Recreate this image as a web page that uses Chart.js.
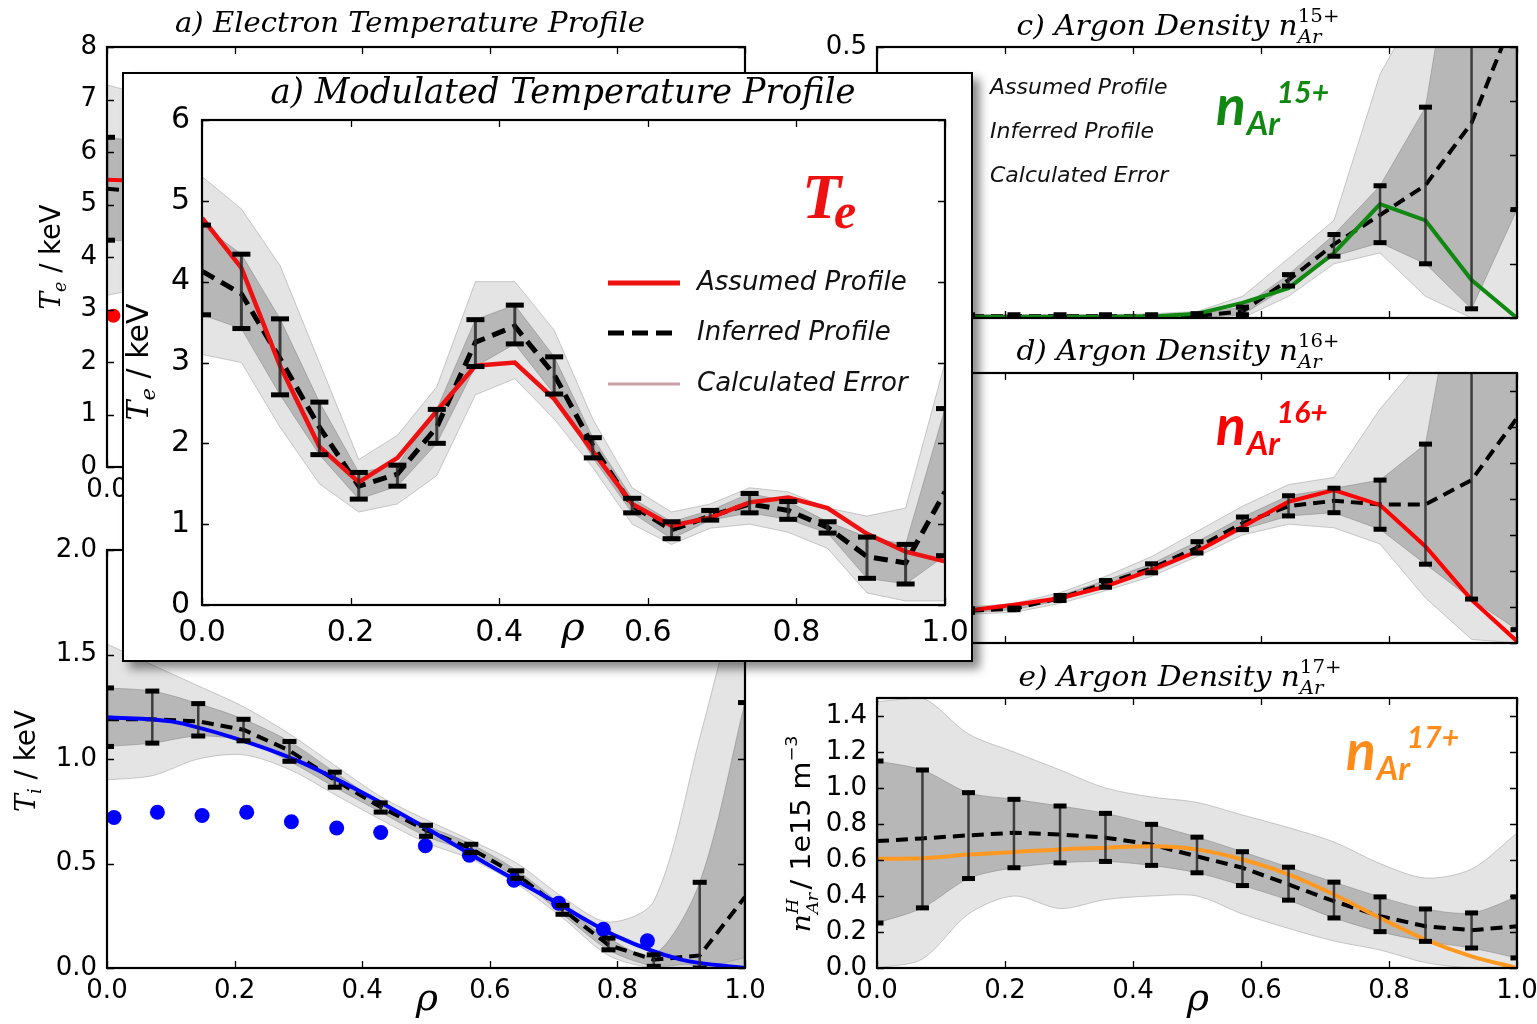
<!DOCTYPE html>
<html>
<head>
<meta charset="utf-8">
<script src="https://cdn.jsdelivr.net/npm/chart.js@4.4.1/dist/chart.umd.min.js"></script>
<style>
body { margin: 0; background: #fff; width: 1537px; height: 1024px; overflow: hidden; position: relative; }
canvas { position: absolute; }
#insetBox { position: absolute; left: 122px; top: 72px; width: 847px; height: 586px; border: 2px solid #000; background: #fff; box-shadow: 7px 7px 9px rgba(0,0,0,0.45); z-index: 5; }
</style>
</head>
<body>
<canvas id="cA"></canvas>
<canvas id="cB"></canvas>
<canvas id="cC"></canvas>
<canvas id="cD"></canvas>
<canvas id="cE"></canvas>
<div id="insetBox"></div>
<canvas id="cInset"></canvas>
<script>
// ---- data ----
// inset: modulated Te profile
const rhoTe = [0.0, 0.053, 0.105, 0.158, 0.211, 0.263, 0.316, 0.368, 0.421, 0.474, 0.526, 0.579, 0.632, 0.684, 0.737, 0.789, 0.842, 0.895, 0.947, 1.0];
const teAssumed  = [4.79, 4.17, 2.96, 1.96, 1.52, 1.82, 2.40, 2.96, 3.00, 2.55, 1.90, 1.25, 0.98, 1.08, 1.27, 1.33, 1.20, 0.88, 0.66, 0.54];
const teInferred = [4.13, 3.85, 3.05, 2.20, 1.47, 1.62, 2.20, 3.25, 3.45, 2.85, 1.97, 1.23, 0.93, 1.10, 1.25, 1.17, 0.96, 0.60, 0.52, 1.40];
const teErrLo    = [3.59, 3.42, 2.60, 1.86, 1.31, 1.47, 2.00, 2.95, 3.23, 2.61, 1.82, 1.14, 0.82, 1.05, 1.14, 1.06, 0.89, 0.33, 0.26, 0.61];
const teErrHi    = [4.70, 4.34, 3.54, 2.51, 1.64, 1.73, 2.42, 3.53, 3.71, 3.07, 2.07, 1.32, 1.03, 1.17, 1.38, 1.28, 1.03, 0.84, 0.75, 2.43];
const teSpreadHi = [5.30, 4.90, 4.20, 3.00, 1.80, 2.10, 2.70, 4.00, 4.00, 3.40, 2.30, 1.45, 1.15, 1.25, 1.45, 1.40, 1.20, 1.10, 1.20, 3.00];
const teSpreadLo = [3.10, 3.00, 2.20, 1.50, 1.15, 1.25, 1.60, 2.60, 2.80, 2.30, 1.70, 1.00, 0.75, 0.95, 1.00, 0.90, 0.70, 0.15, 0.05, 0.05];

// panel a (mostly hidden behind the inset)
const rhoTeA = [0.0, 0.053, 0.105];
const teAAssumed  = [5.47, 5.45, 5.30];
const teAInferred = [5.30, 5.25, 5.10];
const teAErrLo    = [4.32, 4.30, 4.20];
const teAErrHi    = [6.28, 6.20, 6.00];
const teASpreadHi = [7.28, 7.10, 6.80];
const teASpreadLo = [3.27, 3.40, 3.50];
const rhoTeAMeas = [0.01];
const teAMeas = [2.88];

// panel b: Ti
const rhoGrid = [0.0, 0.071, 0.143, 0.214, 0.286, 0.357, 0.429, 0.5, 0.571, 0.643, 0.714, 0.786, 0.857, 0.929, 1.0];
const tiInferred = [1.19, 1.19, 1.18, 1.14, 1.04, 0.90, 0.77, 0.66, 0.57, 0.445, 0.28, 0.11, 0.04, 0.06, 0.34];
const tiErrLo    = [1.06, 1.076, 1.11, 1.087, 0.989, 0.865, 0.746, 0.63, 0.552, 0.429, 0.257, 0.087, 0.008, 0.0, -0.3];
const tiErrHi    = [1.34, 1.325, 1.265, 1.19, 1.084, 0.937, 0.79, 0.683, 0.592, 0.465, 0.30, 0.143, 0.063, 0.41, 1.27];
const tiSpreadHi = [1.55, 1.45, 1.35, 1.25, 1.12, 0.97, 0.82, 0.71, 0.61, 0.50, 0.34, 0.22, 0.32, 1.10, 1.95];
const tiSpreadLo = [0.90, 0.92, 1.00, 1.02, 0.95, 0.83, 0.71, 0.60, 0.52, 0.40, 0.24, 0.06, 0.00, 0.00, 0.05];
const rhoTiAssumed = [0.0, 0.1, 0.2, 0.3, 0.4, 0.5, 0.6, 0.7, 0.8, 0.9, 1.0];
const tiAssumed = [1.20, 1.18, 1.10, 0.99, 0.84, 0.67, 0.49, 0.32, 0.15, 0.04, 0.0];
const rhoTiMeas = [0.011, 0.079, 0.149, 0.219, 0.289, 0.36, 0.429, 0.499, 0.568, 0.638, 0.708, 0.778, 0.847];
const tiMeas = [0.72, 0.745, 0.73, 0.745, 0.70, 0.67, 0.648, 0.585, 0.54, 0.42, 0.31, 0.185, 0.13];

// panel c: Ar 15+
const ar15Assumed  = [0.002, 0.002, 0.002, 0.002, 0.002, 0.002, 0.003, 0.008, 0.028, 0.055, 0.12, 0.21, 0.18, 0.07, 0.0];
const ar15Inferred = [0.003, 0.003, 0.003, 0.003, 0.003, 0.003, 0.003, 0.004, 0.012, 0.07, 0.136, 0.19, 0.245, 0.36, 0.57];
const ar15ErrLo    = [0.0, 0.0, 0.0, 0.0, 0.0, 0.0, 0.0, 0.0, 0.006, 0.059, 0.114, 0.139, 0.10, 0.017, 0.2];
const ar15ErrHi    = [0.006, 0.006, 0.006, 0.006, 0.006, 0.006, 0.006, 0.008, 0.02, 0.08, 0.154, 0.244, 0.389, 0.9, 1.0];
const ar15SpreadHi = [0.006, 0.006, 0.006, 0.006, 0.006, 0.006, 0.008, 0.012, 0.04, 0.11, 0.18, 0.45, 0.60, 0.70, 0.70];
const ar15SpreadLo = [0.0, 0.0, 0.0, 0.0, 0.0, 0.0, 0.0, 0.0, 0.0, 0.04, 0.10, 0.12, 0.04, 0.0, 0.0];

// panel d: Ar 16+
const ar16Assumed  = [0.16, 0.165, 0.18, 0.212, 0.249, 0.314, 0.406, 0.508, 0.646, 0.785, 0.85, 0.767, 0.536, 0.24, 0.01];
const ar16Inferred = [0.16, 0.165, 0.18, 0.19, 0.25, 0.33, 0.415, 0.53, 0.665, 0.76, 0.79, 0.77, 0.77, 0.905, 1.25];
const ar16ErrLo    = [0.15, 0.155, 0.17, 0.185, 0.236, 0.31, 0.39, 0.50, 0.63, 0.706, 0.724, 0.632, 0.438, 0.244, 0.074];
const ar16ErrHi    = [0.17, 0.175, 0.19, 0.194, 0.264, 0.347, 0.44, 0.563, 0.70, 0.818, 0.86, 0.905, 1.105, 2.5, 2.5];
const ar16SpreadHi = [0.18, 0.185, 0.20, 0.22, 0.28, 0.37, 0.48, 0.62, 0.76, 0.88, 0.92, 1.30, 1.60, 1.60, 1.60];
const ar16SpreadLo = [0.14, 0.145, 0.16, 0.17, 0.22, 0.29, 0.37, 0.48, 0.60, 0.66, 0.64, 0.55, 0.25, 0.02, 0.0];

// panel e: Ar 17+
const ar17Assumed  = [0.607, 0.61, 0.63, 0.644, 0.659, 0.668, 0.677, 0.659, 0.603, 0.52, 0.408, 0.278, 0.158, 0.065, 0.0];
const ar17Inferred = [0.705, 0.72, 0.737, 0.751, 0.742, 0.724, 0.686, 0.62, 0.557, 0.464, 0.371, 0.288, 0.232, 0.21, 0.232];
const ar17ErrLo    = [0.25, 0.334, 0.497, 0.557, 0.584, 0.592, 0.57, 0.529, 0.458, 0.377, 0.278, 0.202, 0.148, 0.111, 0.056];
const ar17ErrHi    = [1.15, 1.10, 0.974, 0.937, 0.90, 0.859, 0.798, 0.727, 0.646, 0.56, 0.477, 0.395, 0.328, 0.306, 0.395];
const ar17SpreadHi = [1.48, 1.50, 1.30, 1.20, 1.10, 1.00, 0.95, 0.92, 0.85, 0.78, 0.70, 0.58, 0.50, 0.55, 0.75];
const ar17SpreadLo = [0.0, 0.05, 0.30, 0.40, 0.33, 0.38, 0.40, 0.40, 0.30, 0.22, 0.15, 0.10, 0.03, 0.0, 0.0];

// ---- helpers ----
const serifI = s => `italic ${s}px "DejaVu Serif", serif`;
const serif = s => `${s}px "DejaVu Serif", serif`;
const sans = s => `${s}px "DejaVu Sans", sans-serif`;
const sansI = s => `italic ${s}px "DejaVu Sans", sans-serif`;
const bigF = s => `italic bold ${s}px Lato, "Open Sans", sans-serif`;

function xy(xs, ys) { return xs.map((x, i) => ({x: x, y: ys[i]})); }
function line(xs, ys, color, width, extra) {
  return Object.assign({data: xy(xs, ys), borderColor: color, borderWidth: width, pointRadius: 0, fill: false, tension: 0}, extra || {});
}
function band(xs, hi, lo, fillCol, edgeCol, tension) {
  return [
    {data: xy(xs, hi), borderColor: edgeCol, borderWidth: 1, pointRadius: 0, fill: false, tension: tension},
    {data: xy(xs, lo), borderColor: edgeCol, borderWidth: 1, pointRadius: 0, fill: '-1', backgroundColor: fillCol, tension: tension}
  ];
}
const OUTER = 'rgba(165,165,165,0.30)', OUTER_EDGE = 'rgba(160,160,160,0.55)';
const INNER = 'rgba(115,115,115,0.40)', INNER_EDGE = 'rgba(130,130,130,0.5)';

// text with sub/superscripts, centred at (x, y); baseline at y
function rich(ctx, parts, x, y, opt) {
  opt = opt || {};
  ctx.save();
  ctx.translate(x, y);
  if (opt.rot) ctx.rotate(opt.rot);
  let w = 0;
  parts.forEach(p => { ctx.font = p.f; p.w = ctx.measureText(p.t).width; if (p.adv !== false) w += p.w + (p.dx || 0); });
  if (opt.width) ctx.scale(opt.width / w, 1);
  let cx = opt.align === 'left' ? 0 : -w / 2;
  ctx.fillStyle = opt.color || '#000';
  ctx.textBaseline = 'alphabetic';
  ctx.textAlign = 'left';
  parts.forEach(p => {
    ctx.font = p.f;
    cx += p.dx || 0;
    ctx.fillText(p.t, cx, p.dy || 0);
    if (p.adv !== false) cx += p.w;
  });
  ctx.restore();
}
function argonTitle(ctx, letter, charge, cx, y) {
  rich(ctx, [
    {t: letter + ') Argon Density n', f: serifI(27)},
    {t: 'Ar', f: serifI(18), dy: 8, adv: false},
    {t: charge, f: serif(18), dy: -13}
  ], cx, y, {width: 323});
}
function nLabel(ctx, charge, color, x, y) {
  rich(ctx, [
    {t: 'n', f: bigF(55)},
    {t: 'Ar', f: bigF(33), dy: 10, dx: 1},
    {t: charge, f: bigF(30), dy: -22, dx: -3}
  ], x, y, {align: 'left', color: color});
}

const decor = {};
const decoPlugin = {
  id: 'deco',
  afterDatasetsDraw(chart) {
    const d = decor[chart.canvas.id];
    const ctx = chart.ctx, a = chart.chartArea, xs = chart.scales.x, ys = chart.scales.y;
    if (d.err) {
      const e = d.err;
      ctx.save();
      ctx.beginPath(); ctx.rect(a.left, a.top, a.right - a.left, a.bottom - a.top); ctx.clip();
      e.x.forEach((xv, i) => {
        const px = xs.getPixelForValue(xv);
        const p1 = ys.getPixelForValue(e.lo[i]), p2 = ys.getPixelForValue(e.hi[i]);
        ctx.strokeStyle = 'rgba(40,40,40,0.85)';
        ctx.lineWidth = e.lw;
        ctx.beginPath(); ctx.moveTo(px, p1); ctx.lineTo(px, p2); ctx.stroke();
        ctx.fillStyle = '#000';
        [p1, p2].forEach(py => ctx.fillRect(px - e.cap / 2, py - e.th / 2, e.cap, e.th));
      });
      ctx.restore();
    }
    // inward ticks on all sides + frame
    ctx.save();
    ctx.strokeStyle = '#000';
    ctx.lineWidth = 1.3;
    const tk = 7;
    ctx.beginPath();
    xs.ticks.forEach(t => {
      const px = Math.round(xs.getPixelForValue(t.value)) + 0.5;
      ctx.moveTo(px, a.bottom); ctx.lineTo(px, a.bottom - tk);
      ctx.moveTo(px, a.top); ctx.lineTo(px, a.top + tk);
    });
    ys.ticks.forEach(t => {
      const py = Math.round(ys.getPixelForValue(t.value)) + 0.5;
      ctx.moveTo(a.left, py); ctx.lineTo(a.left + tk, py);
      ctx.moveTo(a.right, py); ctx.lineTo(a.right - tk, py);
    });
    ctx.stroke();
    ctx.lineWidth = 2.2;
    ctx.strokeRect(a.left, a.top, a.right - a.left, a.bottom - a.top);
    ctx.restore();
    if (d.draw) {
      ctx.save();
      ctx.translate(-d.ox, -d.oy);
      d.draw(ctx, chart);
      ctx.restore();
    }
  }
};

function panel(id, box, pad, cfg) {
  const cv = document.getElementById(id);
  const ox = box.x - pad.l, oy = box.y - pad.t;
  cv.width = box.w + pad.l + pad.r;
  cv.height = box.h + pad.t + pad.b;
  cv.style.left = ox + 'px';
  cv.style.top = oy + 'px';
  cv.style.zIndex = cfg.z || 1;
  decor[id] = {ox: ox, oy: oy, err: cfg.err, draw: cfg.draw};
  const tickFont = {family: 'DejaVu Sans', size: cfg.fs || 26};
  return new Chart(cv, {
    type: 'line',
    data: {datasets: cfg.datasets},
    options: {
      responsive: false, animation: false, devicePixelRatio: 1,
      layout: {padding: {left: 0, top: pad.t, right: pad.r, bottom: 0}},
      plugins: {legend: {display: false}, tooltip: {enabled: false}},
      scales: {
        x: {
          type: 'linear', min: 0, max: 1,
          grid: {display: false, drawTicks: false}, border: {display: false},
          ticks: {display: cfg.xLabels !== false, stepSize: 0.2, color: '#000', font: tickFont,
                  padding: cfg.xpad || 8, maxRotation: 0, autoSkip: false, includeBounds: false,
                  callback: v => v.toFixed(1)},
          afterFit: s => { s.height = pad.b; s.paddingLeft = 0; s.paddingRight = 0; }
        },
        y: {
          type: 'linear', min: cfg.ymin, max: cfg.ymax,
          grid: {display: false, drawTicks: false}, border: {display: false},
          ticks: {stepSize: cfg.ystep, color: '#000', font: tickFont, padding: cfg.ypad || 10,
                  autoSkip: false, includeBounds: false, callback: v => v.toFixed(cfg.ydec)},
          afterFit: s => { s.width = pad.l; s.paddingTop = 0; s.paddingBottom = 0; }
        }
      }
    },
    plugins: [decoPlugin]
  });
}

// ---- panel a: electron temperature (background) ----
panel('cA', {x: 107, y: 47, w: 638, h: 420}, {l: 107, t: 47, r: 22, b: 45}, {
  ymin: 0, ymax: 8, ystep: 1, ydec: 0,
  datasets: [
    {data: xy(rhoTeAMeas, teAMeas), showLine: false, pointRadius: 7, pointBackgroundColor: '#ff0000', pointBorderWidth: 0},
    line(rhoTeA, teAAssumed, '#ff0000', 4),
    line(rhoTeA, teAInferred, '#000', 4, {borderDash: [12, 7]}),
    ...band(rhoTeA, teAErrHi, teAErrLo, INNER, INNER_EDGE, 0),
    ...band(rhoTeA, teASpreadHi, teASpreadLo, OUTER, OUTER_EDGE, 0)
  ],
  err: {x: rhoTeA, lo: teAErrLo, hi: teAErrHi, lw: 2.5, cap: 16, th: 5},
  draw: ctx => {
    rich(ctx, [{t: 'a) Electron Temperature Profile', f: serifI(28)}], 410, 32, {width: 470});
    rich(ctx, [{t: 'T', f: serifI(27)}, {t: 'e', f: serifI(18), dy: 6}, {t: ' / keV', f: sans(28)}], 60, 257, {rot: -Math.PI / 2, width: 105});
  }
});

// ---- panel b: ion temperature ----
panel('cB', {x: 107, y: 550, w: 638, h: 418}, {l: 107, t: 30, r: 22, b: 56}, {
  ymin: 0, ymax: 2, ystep: 0.5, ydec: 1,
  datasets: [
    {data: xy(rhoTiMeas, tiMeas), showLine: false, pointRadius: 7.5, pointBackgroundColor: '#0000ff', pointBorderWidth: 0},
    line(rhoTiAssumed, tiAssumed, '#0000ff', 4, {cubicInterpolationMode: 'monotone'}),
    line(rhoGrid, tiInferred, '#000', 4, {borderDash: [12, 7]}),
    ...band(rhoGrid, tiErrHi, tiErrLo, INNER, INNER_EDGE, 0.3),
    ...band(rhoGrid, tiSpreadHi, tiSpreadLo, OUTER, OUTER_EDGE, 0.3)
  ],
  err: {x: rhoGrid, lo: tiErrLo, hi: tiErrHi, lw: 2.5, cap: 14, th: 5},
  draw: ctx => {
    rich(ctx, [{t: 'T', f: serifI(27)}, {t: 'i', f: serifI(18), dy: 6}, {t: ' / keV', f: sans(28)}], 35, 761, {rot: -Math.PI / 2, width: 102});
    rich(ctx, [{t: 'ρ', f: serifI(38)}], 427, 1010);
  }
});

// ---- panel c: Ar 15+ ----
panel('cC', {x: 877, y: 47, w: 640, h: 271}, {l: 90, t: 47, r: 20, b: 20}, {
  ymin: 0, ymax: 0.5, ystep: 0.1, ydec: 1, xLabels: false,
  datasets: [
    line(rhoGrid, ar15Assumed, '#118811', 4),
    line(rhoGrid, ar15Inferred, '#000', 4, {borderDash: [12, 7]}),
    ...band(rhoGrid, ar15ErrHi, ar15ErrLo, INNER, INNER_EDGE, 0),
    ...band(rhoGrid, ar15SpreadHi, ar15SpreadLo, OUTER, OUTER_EDGE, 0)
  ],
  err: {x: rhoGrid, lo: ar15ErrLo, hi: ar15ErrHi, lw: 2.5, cap: 13, th: 5},
  draw: ctx => {
    argonTitle(ctx, 'c', '15+', 1178, 35);
    ctx.font = sansI(22);
    ctx.fillStyle = '#111';
    ctx.textBaseline = 'middle';
    ctx.fillText('Assumed Profile', 990, 88);
    ctx.fillText('Inferred Profile', 990, 132);
    ctx.fillText('Calculated Error', 990, 176);
    nLabel(ctx, '15+', '#118811', 1216, 125);
  }
});

// ---- panel d: Ar 16+ ----
panel('cD', {x: 877, y: 373, w: 640, h: 270}, {l: 90, t: 45, r: 20, b: 20}, {
  ymin: 0, ymax: 1.5, ystep: 0.2, ydec: 1, xLabels: false,
  datasets: [
    line(rhoGrid, ar16Assumed, '#ff0000', 4),
    line(rhoGrid, ar16Inferred, '#000', 4, {borderDash: [12, 7]}),
    ...band(rhoGrid, ar16ErrHi, ar16ErrLo, INNER, INNER_EDGE, 0),
    ...band(rhoGrid, ar16SpreadHi, ar16SpreadLo, OUTER, OUTER_EDGE, 0)
  ],
  err: {x: rhoGrid, lo: ar16ErrLo, hi: ar16ErrHi, lw: 2.5, cap: 13, th: 5},
  draw: ctx => {
    argonTitle(ctx, 'd', '16+', 1178, 360);
    nLabel(ctx, '16+', '#ff0000', 1216, 445);
  }
});

// ---- panel e: Ar 17+ ----
panel('cE', {x: 877, y: 698, w: 640, h: 270}, {l: 110, t: 45, r: 20, b: 56}, {
  ymin: 0, ymax: 1.5, ystep: 0.2, ydec: 1,
  datasets: [
    line(rhoGrid, ar17Assumed, '#ff9922', 4, {cubicInterpolationMode: 'monotone'}),
    line(rhoGrid, ar17Inferred, '#000', 4, {borderDash: [12, 7]}),
    ...band(rhoGrid, ar17ErrHi, ar17ErrLo, INNER, INNER_EDGE, 0.3),
    ...band(rhoGrid, ar17SpreadHi, ar17SpreadLo, OUTER, OUTER_EDGE, 0.3)
  ],
  err: {x: rhoGrid, lo: ar17ErrLo, hi: ar17ErrHi, lw: 2.5, cap: 13, th: 5},
  draw: ctx => {
    argonTitle(ctx, 'e', '17+', 1180, 686);
    rich(ctx, [
      {t: 'n', f: serifI(26)}, {t: 'Ar', f: serifI(16), dy: 8, adv: false}, {t: 'H', f: serifI(16), dy: -12},
      {t: ' / 1e15 m', f: sans(26)}, {t: '−3', f: sans(16), dy: -13}
    ], 810, 834, {rot: -Math.PI / 2, width: 197});
    rich(ctx, [{t: 'ρ', f: serifI(38)}], 1198, 1010);
    nLabel(ctx, '17+', '#ff8c1a', 1346, 770);
  }
});

// ---- inset: modulated temperature profile ----
panel('cInset', {x: 202, y: 120, w: 743, h: 485}, {l: 80, t: 48, r: 28, b: 57}, {
  z: 6, fs: 30, ymin: 0, ymax: 6, ystep: 1, ydec: 0, xpad: 10, ypad: 12,
  datasets: [
    line(rhoTe, teAssumed, '#ee1111', 4.5),
    line(rhoTe, teInferred, '#000', 5, {borderDash: [14, 8]}),
    ...band(rhoTe, teErrHi, teErrLo, INNER, INNER_EDGE, 0),
    ...band(rhoTe, teSpreadHi, teSpreadLo, OUTER, OUTER_EDGE, 0)
  ],
  err: {x: rhoTe, lo: teErrLo, hi: teErrHi, lw: 3, cap: 18, th: 5},
  draw: ctx => {
    rich(ctx, [{t: 'a) Modulated Temperature Profile', f: serifI(36)}], 563, 103, {width: 585});
    rich(ctx, [{t: 'T', f: serifI(30)}, {t: 'e', f: serifI(21), dy: 7}, {t: ' / keV', f: sans(30)}], 148, 362, {rot: -Math.PI / 2});
    rich(ctx, [{t: 'ρ', f: serifI(40)}], 573, 640);
    rich(ctx, [{t: 'T', f: 'bold italic 64px "Liberation Serif", serif'}], 802, 218, {align: 'left', color: '#ee1111'});
    rich(ctx, [{t: 'e', f: 'bold italic 50px "Liberation Serif", serif'}], 834, 228, {align: 'left', color: '#ee1111'});
    // legend
    ctx.lineWidth = 5;
    ctx.strokeStyle = '#ee1111';
    ctx.beginPath(); ctx.moveTo(608, 283); ctx.lineTo(680, 283); ctx.stroke();
    ctx.strokeStyle = '#000';
    ctx.setLineDash([16, 8]);
    ctx.beginPath(); ctx.moveTo(608, 333); ctx.lineTo(680, 333); ctx.stroke();
    ctx.setLineDash([]);
    ctx.lineWidth = 3;
    ctx.strokeStyle = 'rgb(200,160,168)';
    ctx.beginPath(); ctx.moveTo(608, 384); ctx.lineTo(680, 384); ctx.stroke();
    ctx.font = sansI(26);
    ctx.fillStyle = '#111';
    ctx.textBaseline = 'middle';
    ctx.fillText('Assumed Profile', 697, 283);
    ctx.fillText('Inferred Profile', 697, 333);
    ctx.fillText('Calculated Error', 697, 384);
  }
});
</script>
</body>
</html>
